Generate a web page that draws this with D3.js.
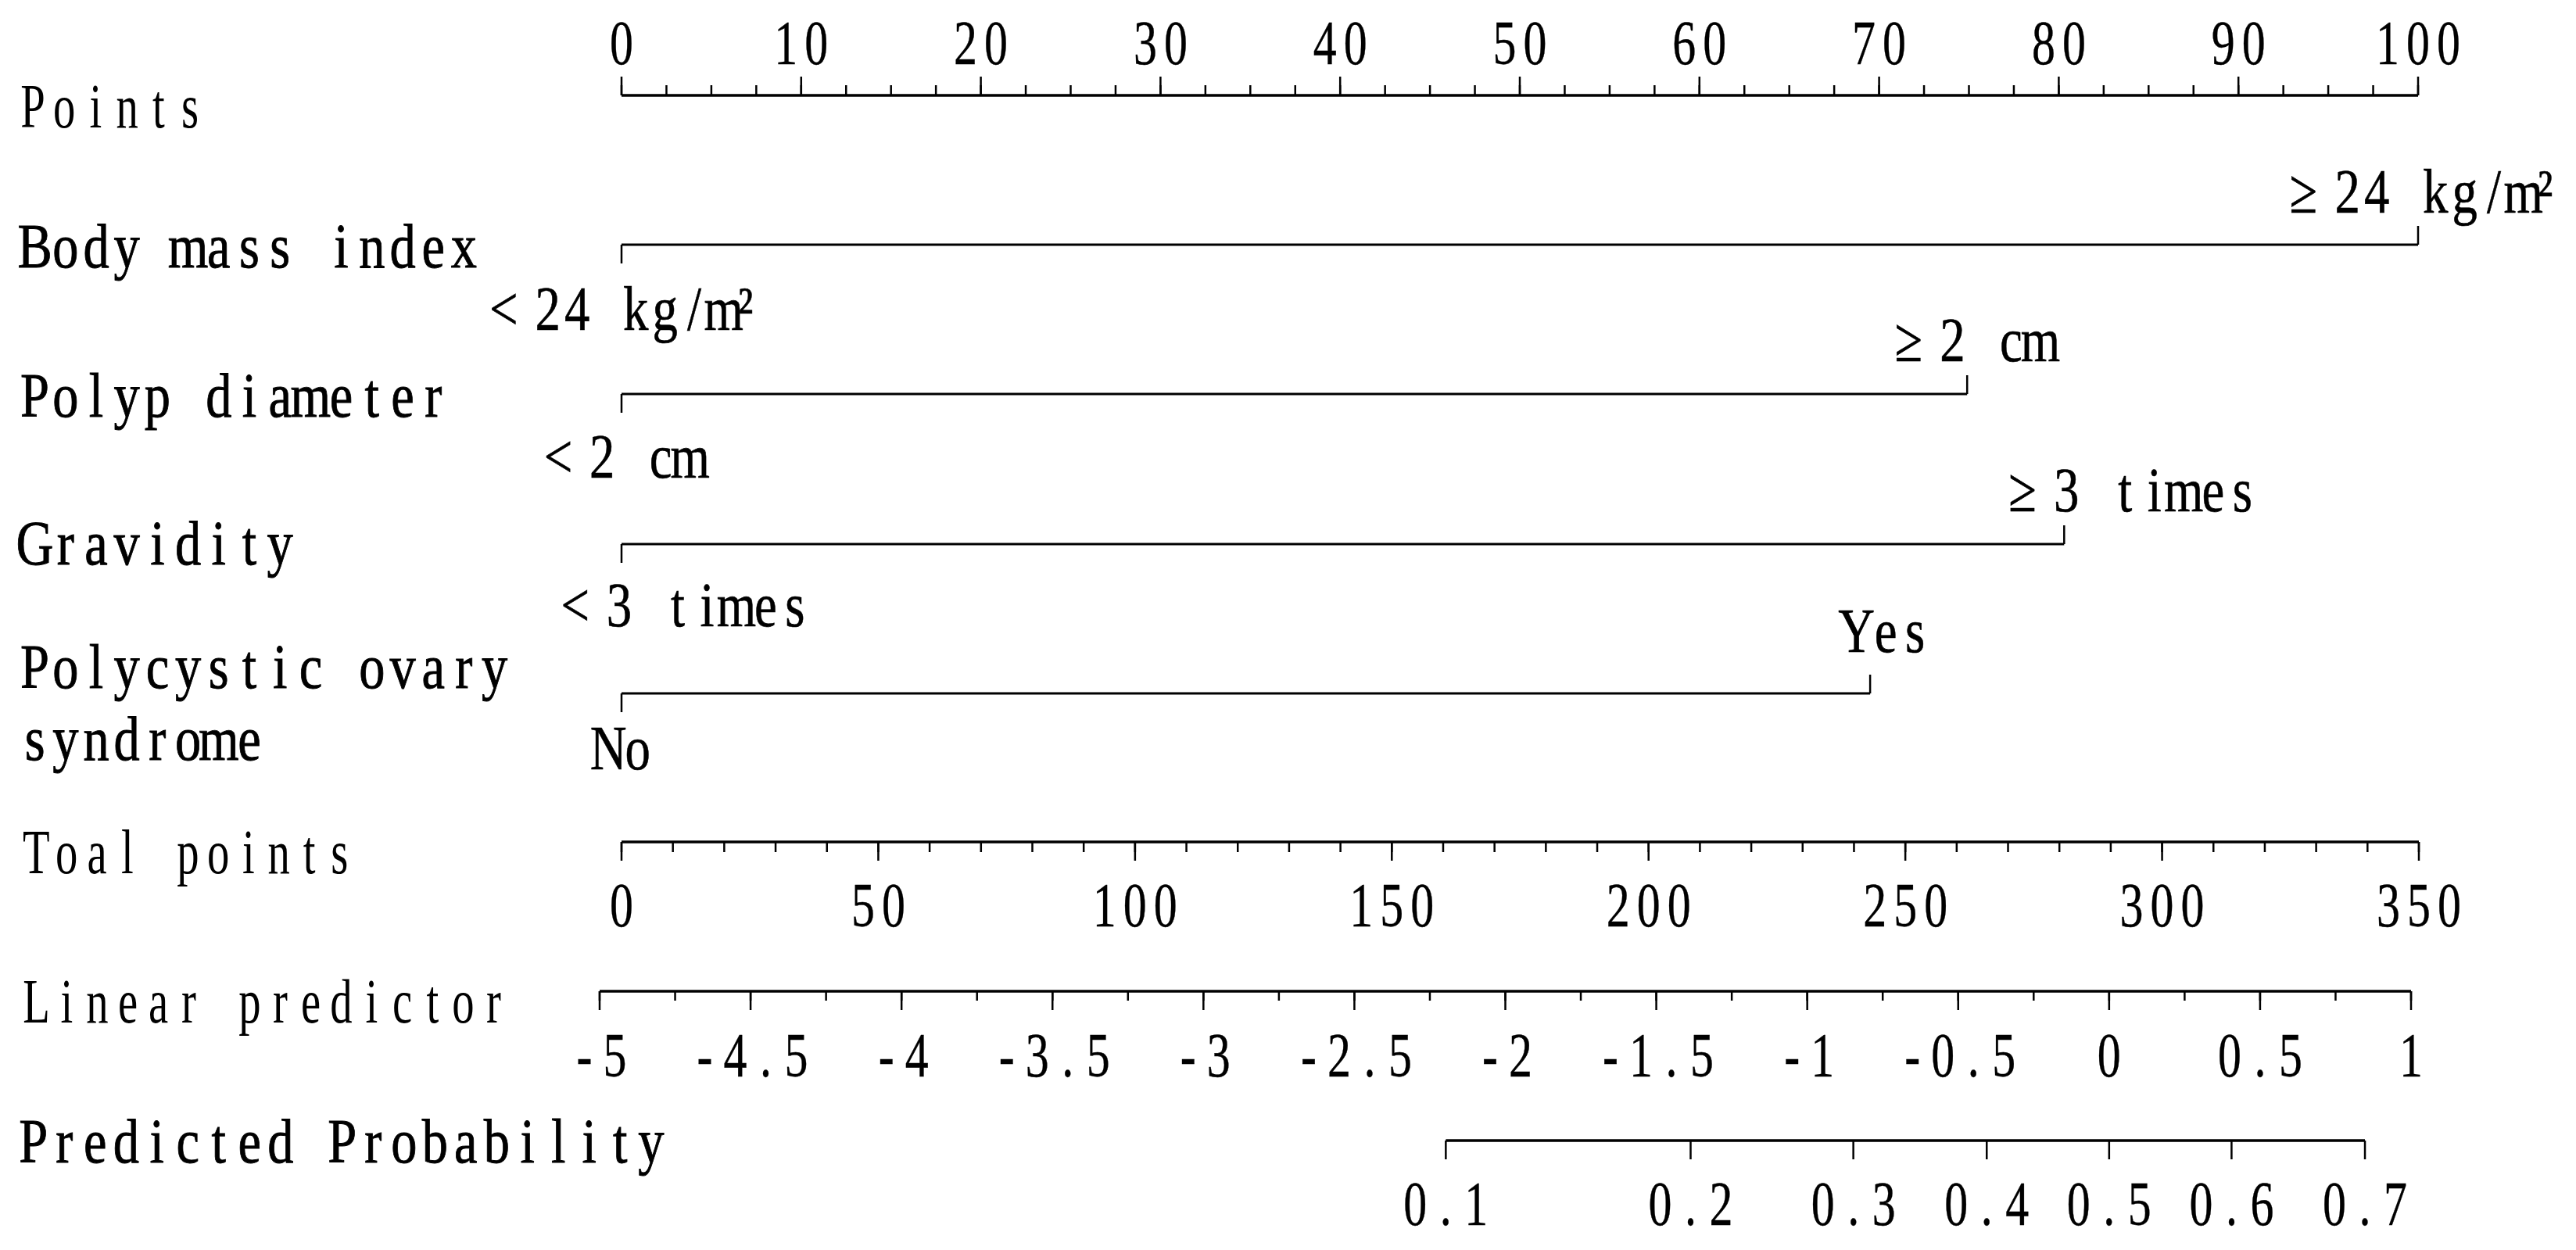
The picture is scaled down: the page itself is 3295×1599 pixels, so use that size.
<!DOCTYPE html>
<html>
<head>
<meta charset="utf-8">
<script src="https://cdn.jsdelivr.net/npm/d3@7"></script>
<style>
  html, body { margin: 0; padding: 0; background: #ffffff; }
  svg { display: block; }
</style>
</head>
<body>
<script>
// ---------------- data ----------------
const pointsTicks = d3.range(0, 101, 10);
const pointsMinor = d3.range(0, 100.01, 2.5);
const variableNames = ["Body mass index", "Polyp diameter", "Gravidity", "Polycystic ovary\nsyndrome"];
const lowLabels = ["<24 kg/m²", "<2 cm", "<3 times", "No"];
const highLabels = ["≥24 kg/m²", "≥2 cm", "≥3 times", "Yes"];
const lowPoints = [0, 0, 0, 0];
const highPoints = [100, 74.9, 80.3, 69.5];
const totalTicks = d3.range(0, 351, 50);
const totalMinor = d3.range(0, 350.01, 10);
const lpTicks = d3.range(-5, 1.001, 0.5);
const lpMinor = d3.range(-5, 1.001, 0.25);
const probTicks = [0.1, 0.2, 0.3, 0.4, 0.5, 0.6, 0.7];

// ---------------- layout ----------------
const W = 3295, H = 1599;
const FONT = "'Liberation Serif', 'Times New Roman', serif";
const FS = 81;
const layout = {
  pointsAxisY: 122, pointsLabelY: 82, pointsTitleY: 163,
  varLineY: [313, 504, 696, 887],
  varTitleY: [[342], [533], [722], [880, 972]],
  highLabelY: [272, 462, 654, 834],
  lowLabelY: [422, 611, 801, 984],
  highDx: [-6, 0, 78, 20],
  lowDx: [-10, -6, 72, 2],
  totalAxisY: 1077, totalLabelY: 1185, totalTitleY: 1117,
  lpAxisY: 1268, lpLabelY: 1377, lpTitleY: 1308,
  probAxisY: 1459, probLabelY: 1567, probTitleY: 1487,
  majorLen: 24, minorLen: 13, endTick: 24
};

const svg = d3.select("body").append("svg").attr("width", W).attr("height", H)
  .style("background", "#fff");

const xPts = d3.scaleLinear().domain([0, 100]).range([795, 3093]);
const xTot = d3.scaleLinear().domain([0, 350]).range([795, 3094]);
const xLp = d3.scaleLinear().domain([-5, 1]).range([767, 3084]);
const logit = p => Math.log(p / (1 - p));
const xProb = p => xLp(logit(p));

// ---------------- mono-spaced text helper ----------------
const measurer = svg.append("text").attr("font-family", FONT).attr("font-size", FS)
  .attr("visibility", "hidden");
const widthCache = {};
function charW(ch) {
  if (widthCache[ch] === undefined) {
    measurer.text(ch === " " ? "\u00a0" : ch);
    widthCache[ch] = measurer.node().getComputedTextLength();
  }
  return widthCache[ch];
}
function cellOf(ch, cell) {
  if (ch === "≥" || ch === "<") return cell * 2;
  if (ch === "²") return cell * 0.5;
  return cell;
}
function mono(g, str, opt) {
  const cell = opt.cell || 39, sx = opt.sx || 0.78;
  const chars = Array.from(str);
  const cells = chars.map(c => cellOf(c, cell));
  const total = d3.sum(cells);
  let acc = (opt.anchor === "middle" ? opt.x - total / 2 : opt.x) + (opt.dx || 0);
  const xs = [];
  chars.forEach((c, i) => {
    const w = charW(c) * sx;
    xs.push((acc + (cells[i] - w) / 2) / sx);
    acc += cells[i];
  });
  return g.append("text")
    .attr("transform", `scale(${sx},1)`)
    .attr("x", xs.map(v => v.toFixed(2)).join(" "))
    .attr("y", opt.y)
    .attr("font-family", FONT)
    .attr("font-size", FS)
    .attr("fill", "#000")
    .attr("stroke", opt.weight ? "#000" : "none")
    .attr("stroke-width", opt.weight || 0)
    .style("white-space", "pre")
    .text(str);
}

const gLines = svg.append("g").attr("stroke", "#000").attr("fill", "none");
const gText = svg.append("g");

function hline(x1, x2, y, w) {
  gLines.append("line").attr("x1", x1).attr("x2", x2).attr("y1", y).attr("y2", y)
    .attr("stroke-width", w || 3);
}
function ticks(values, scale, y, len, w) {
  gLines.append("g").selectAll("line").data(values).join("line")
    .attr("x1", d => scale(d)).attr("x2", d => scale(d))
    .attr("y1", y).attr("y2", y + len)
    .attr("stroke-width", w || 2.5);
}

// ---------------- Points axis ----------------
hline(xPts(0), xPts(100), layout.pointsAxisY, 3.5);
ticks(pointsMinor, xPts, layout.pointsAxisY, -layout.minorLen);
ticks(pointsTicks, xPts, layout.pointsAxisY, -layout.majorLen);
pointsTicks.forEach(v => mono(gText, String(v), { x: xPts(v), y: layout.pointsLabelY, anchor: "middle", sx: 0.74, weight: 0.4 }));
mono(gText, "Points", { x: 22, y: layout.pointsTitleY, cell: 40.2, sx: 0.7 });

// ---------------- variables ----------------
variableNames.forEach((name, i) => {
  const y = layout.varLineY[i];
  const x0 = xPts(lowPoints[i]), x1 = xPts(highPoints[i]);
  hline(x0, x1, y, 3);
  ticks([lowPoints[i]], xPts, y, layout.endTick);
  ticks([highPoints[i]], xPts, y, -layout.endTick);
  name.split("\n").forEach((part, k) => {
    mono(gText, part, { x: 25, y: layout.varTitleY[i][k], cell: 39.2, sx: 0.82, weight: 0.9 });
  });
  mono(gText, highLabels[i], { x: x1, y: layout.highLabelY[i], anchor: "middle", dx: layout.highDx[i], cell: 37.5, sx: 0.8, weight: 0.6 });
  mono(gText, lowLabels[i], { x: x0, y: layout.lowLabelY[i], anchor: "middle", dx: layout.lowDx[i], cell: 37.5, sx: 0.8, weight: 0.6 });
});

// ---------------- Total points ----------------
hline(xTot(0), xTot(350), layout.totalAxisY, 3.5);
ticks(totalMinor, xTot, layout.totalAxisY, layout.minorLen);
ticks(totalTicks, xTot, layout.totalAxisY, layout.majorLen);
totalTicks.forEach(v => mono(gText, String(v), { x: xTot(v), y: layout.totalLabelY, anchor: "middle", sx: 0.74, weight: 0.4 }));
mono(gText, "Toal points", { x: 27, y: layout.totalTitleY, cell: 38.8, sx: 0.7 });

// ---------------- Linear predictor ----------------
hline(xLp(-5), xLp(1), layout.lpAxisY, 3.5);
ticks(lpMinor, xLp, layout.lpAxisY, 12);
ticks(lpTicks, xLp, layout.lpAxisY, layout.majorLen);
lpTicks.forEach(v => mono(gText, String(Math.round(v * 10) / 10), { x: xLp(v), y: layout.lpLabelY, anchor: "middle", sx: 0.74, weight: 0.4 }));
mono(gText, "Linear predictor", { x: 27, y: layout.lpTitleY, cell: 39.0, sx: 0.7 });

// ---------------- Predicted probability ----------------
hline(xProb(probTicks[0]), xProb(probTicks[probTicks.length - 1]), layout.probAxisY, 3.5);
ticks(probTicks, xProb, layout.probAxisY, layout.majorLen);
probTicks.forEach(p => mono(gText, String(p), { x: xProb(p), y: layout.probLabelY, anchor: "middle", sx: 0.74, weight: 0.4 }));
mono(gText, "Predicted Probability", { x: 23, y: layout.probTitleY, cell: 39.5, sx: 0.82, weight: 0.9 });

measurer.remove();
</script>
</body>
</html>
